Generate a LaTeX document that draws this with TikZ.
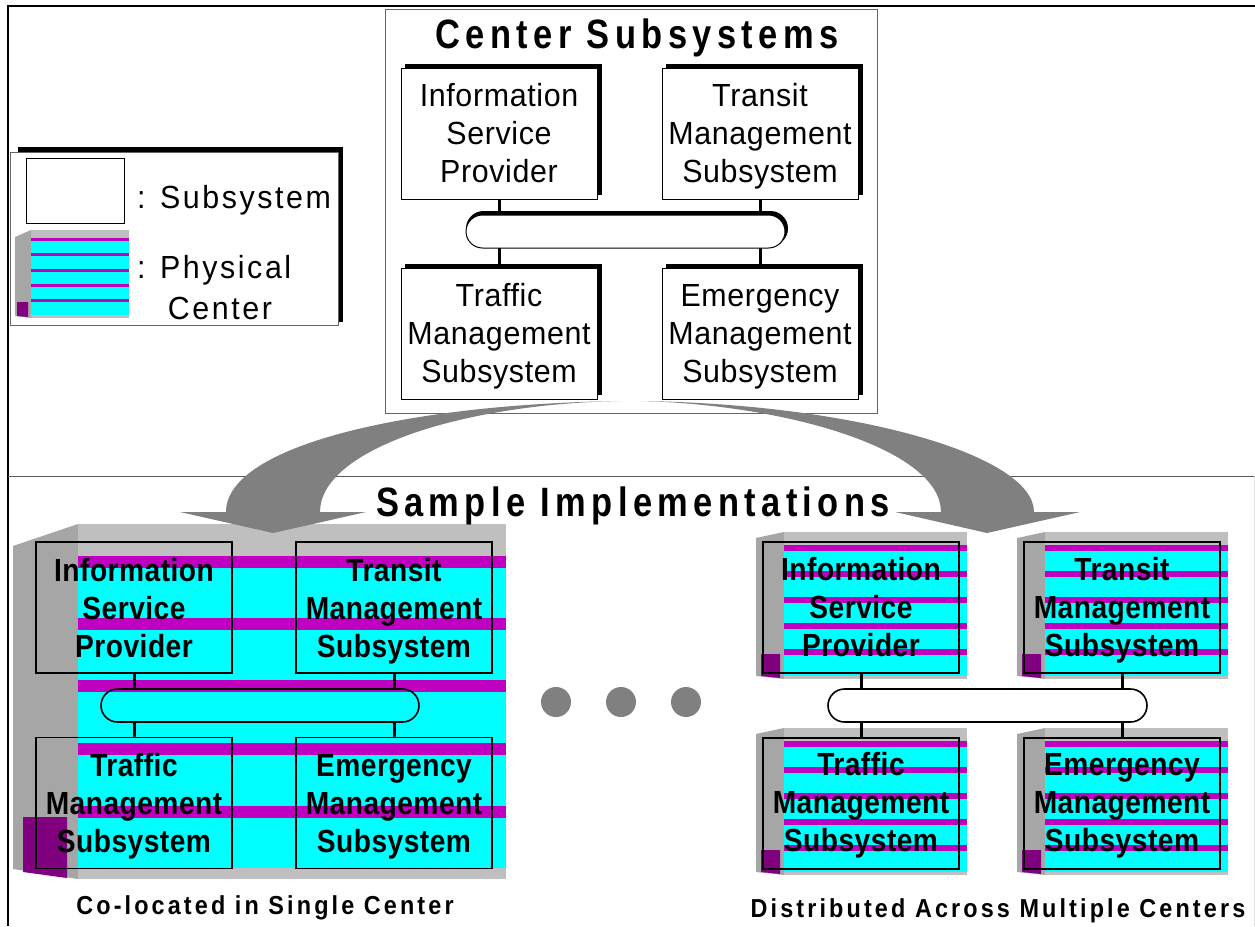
\documentclass[tikz,border=0pt]{standalone}
\usepackage{fontspec}
\usetikzlibrary{shapes.misc}
\setmainfont{Liberation Sans}
\newfontfamily\regf[FakeStretch=0.95,LetterSpace=2]{Liberation Sans}
\newfontfamily\legf[FakeStretch=0.95,LetterSpace=8]{Liberation Sans}
\newfontfamily\bldf[FakeStretch=0.88,LetterSpace=1.5]{Liberation Sans Bold}
\newfontfamily\titf[FakeStretch=0.84,LetterSpace=13.2]{Liberation Sans Bold}
\newfontfamily\capf[FakeStretch=0.9,LetterSpace=12]{Liberation Sans Bold}
\definecolor{sideg}{HTML}{A6A6A6}
\definecolor{frontg}{HTML}{BFBFBF}
\definecolor{glass}{HTML}{00FFFF}
\definecolor{band}{HTML}{C000C0}
\definecolor{door}{HTML}{800080}
\definecolor{arrowg}{HTML}{808080}
\tikzset{
  x=1pt,y=-1pt,
  inner sep=0pt,outer sep=0pt,
  subbox/.style={draw=black,line width=1pt,fill=white,minimum width=196pt,minimum height=131pt},
  openbox/.style={draw=black,line width=1.6pt,minimum width=196pt,minimum height=131pt},
  pillbox/.style={rounded rectangle,draw=black,line width=1.6pt,minimum width=318pt,minimum height=33pt},
  pillthin/.style={rounded rectangle,draw=black,fill=white,line width=1pt,minimum width=319pt,minimum height=33pt},
  regtext/.style={anchor=base,font=\fontsize{32}{32}\regf},
  bldtext/.style={anchor=base,font=\fontsize{32}{32}\bldf},
  tittext/.style={anchor=base,font=\fontsize{41}{41}\titf},
  captext/.style={anchor=base,font=\fontsize{26}{26}\capf},
  legtext/.style={font=\fontsize{32}{32}\legf},
  linkline/.style={draw=black,line width=3pt},
  dotnode/.style={circle,fill=arrowg,minimum size=30pt},
  bigarrow/.style={fill=arrowg,draw=none},
}
\newcommand{\threelines}[7]{% name, x, top baseline, l1,l2,l3, style
  \node[#7] (#1a) at (#2,#3) {#4};
  \node[#7] (#1b) at (#2,#3+38) {#5};
  \node[#7] (#1c) at (#2,#3+76) {#6};
}
\newcommand{\smallcenter}[2]{% left x of side, top y
  \begin{scope}[shift={(#1,#2)}]
    \fill[sideg] (0,6) -- (28,0) -- (28,147) -- (0,144) -- cycle;
    \fill[frontg] (28,0) rectangle (211,147);
    \fill[glass] (28,13) rectangle (211,144);
    \foreach \yb in {13,39,65,91,117}
      \fill[band] (28,\yb) rectangle (211,\yb+5.5);
    \fill[door] (5,122) -- (24,122) -- (24,146) -- (5,144) -- cycle;
  \end{scope}
}
\begin{document}
\begin{tikzpicture}
\useasboundingbox (0,0) rectangle (1255,926);
\fill[white] (0,0) rectangle (1255,926);
% frame
\coordinate (fTL) at (8,6); \coordinate (fTR) at (1255,6);
\coordinate (fBL) at (8,926);
\draw[line width=2.5pt,black] (fTR) -- (fTL) -- (fBL);
\coordinate (mL) at (8,476); \coordinate (mR) at (1255,476);
\draw[line width=1pt,black!65] (mL) -- (mR);
\draw[line width=.8pt,black!12] (1254,476) -- (1254,926);

% legend
\fill[black] (18,147) rectangle (343,322);
\node[draw=black!60,line width=.8pt,fill=white,minimum width=328pt,minimum height=173pt] (legend) at (174,238.5) {};
\node[draw=black,line width=1pt,fill=white,minimum width=98pt,minimum height=65pt] (legsub) at (75,190.5) {};
\fill[sideg] (15,237) -- (31,230) -- (31,318) -- (15,316) -- cycle;
\fill[frontg] (31,230) rectangle (129,318);
\fill[glass] (31,238) rectangle (129,315);
\foreach \yb in {238,253,269,284,299} \fill[band] (31,\yb) rectangle (129,\yb+3.2);
\fill[door] (17,302) -- (28,302) -- (28,317) -- (17,316) -- cycle;
\node[anchor=base west,legtext] (legs) at (137,208) {: Subsystem};
\node[anchor=base west,legtext] (legp) at (137,278) {: Physical};
\node[anchor=base,legtext] (legc) at (220,319) {Center};

% center panel
\node[draw=black!60,line width=.8pt,fill=white,minimum width=492pt,minimum height=404pt] (panel) at (631,211) {};
\node[tittext] (ptitle) at (637,48) {Center Subsystems};
\foreach \bx/\by in {405/64,666/64,405/264,666/264}
  \fill[black] (\bx,\by) rectangle (\bx+197,\by+131);
\node[rounded rectangle,fill=black,minimum width=322pt,minimum height=35pt] (pillsh) at (627,228.5) {};
\node[subbox] (i1) at (499,133.5) {};
\node[subbox] (t1) at (760,133.5) {};
\node[subbox] (r1) at (499,333.5) {};
\node[subbox] (e1) at (760,333.5) {};
\node[pillthin] (p1) at (625.5,231.5) {};
\draw[linkline] (i1.south) -- (i1.south|-pillsh.north);
\draw[linkline] (t1.south) -- (t1.south|-pillsh.north);
\draw[linkline] (r1.north) -- (r1.north|-p1.south);
\draw[linkline] (e1.north) -- (e1.north|-p1.south);
\threelines{i1t}{499}{106}{Information}{Service}{Provider}{regtext}
\threelines{t1t}{760}{106}{Transit}{Management}{Subsystem}{regtext}
\threelines{r1t}{499}{306}{Traffic}{Management}{Subsystem}{regtext}
\threelines{e1t}{760}{306}{Emergency}{Management}{Subsystem}{regtext}

% big co-located centre
\fill[sideg] (13,546) -- (78,524) -- (78,879) -- (13,869) -- cycle;
\fill[frontg] (78,524) rectangle (506,879);
\fill[glass] (78,556) rectangle (506,868);
\foreach \yb in {556,618,680,743,806} \fill[band] (78,\yb) rectangle (506,\yb+11.5);
\fill[door] (23,817) -- (67,817) -- (67,878) -- (23,872) -- cycle;
\node[openbox] (i2) at (134,607.5) {};
\node[openbox] (t2) at (394,607.5) {};
\node[openbox] (r2) at (134,803) {};
\node[openbox] (e2) at (394,803) {};
\node[pillbox] (p2) at (260,705.5) {};
\draw[linkline] (i2.south) -- (i2.south|-p2.north);
\draw[linkline] (t2.south) -- (t2.south|-p2.north);
\draw[linkline] (r2.north) -- (r2.north|-p2.south);
\draw[linkline] (e2.north) -- (e2.north|-p2.south);
\threelines{i2t}{134}{581}{Information}{Service}{Provider}{bldtext}
\threelines{t2t}{394}{581}{Transit}{Management}{Subsystem}{bldtext}
\threelines{r2t}{134}{776}{Traffic}{Management}{Subsystem}{bldtext}
\threelines{e2t}{394}{776}{Emergency}{Management}{Subsystem}{bldtext}
\node[captext] (cap1) at (265,914) {Co-located in Single Center};

% dots
\node[dotnode] (d1) at (556,702) {};
\node[dotnode] (d2) at (621,702) {};
\node[dotnode] (d3) at (686,702) {};

% distributed centres
\smallcenter{756}{532}
\smallcenter{1017}{532}
\smallcenter{756}{728}
\smallcenter{1017}{728}
\node[openbox] (i3) at (861,607.5) {};
\node[openbox] (t3) at (1122,607.5) {};
\node[openbox] (r3) at (861,803.5) {};
\node[openbox] (e3) at (1122,803.5) {};
\node[pillbox,fill=white,minimum width=319pt] (p3) at (987.5,705.5) {};
\draw[linkline] (i3.south) -- (i3.south|-p3.north);
\draw[linkline] (t3.south) -- (t3.south|-p3.north);
\draw[linkline] (r3.north) -- (r3.north|-p3.south);
\draw[linkline] (e3.north) -- (e3.north|-p3.south);
\threelines{i3t}{861}{580}{Information}{Service}{Provider}{bldtext}
\threelines{t3t}{1122}{580}{Transit}{Management}{Subsystem}{bldtext}
\threelines{r3t}{861}{775}{Traffic}{Management}{Subsystem}{bldtext}
\threelines{e3t}{1122}{775}{Emergency}{Management}{Subsystem}{bldtext}
\node[captext] (cap2) at (998,917) {Distributed Across Multiple Centers};

% big arrows
\fill[bigarrow] (620,401) .. controls (410,404) and (226,445) .. (226,512)
  -- (180,512) -- (273,533) -- (366,512) -- (320,512)
  .. controls (320,450) and (460,404) .. (620,401) -- cycle;
\fill[bigarrow] (641,401) .. controls (855,404) and (1034,455) .. (1034,512)
  -- (1080,512) -- (987,533) -- (895,512) -- (941,512)
  .. controls (941,450) and (790,405) .. (641,401) -- cycle;
\node[tittext] (stitle) at (633,516) {Sample Implementations};
\end{tikzpicture}
\end{document}
